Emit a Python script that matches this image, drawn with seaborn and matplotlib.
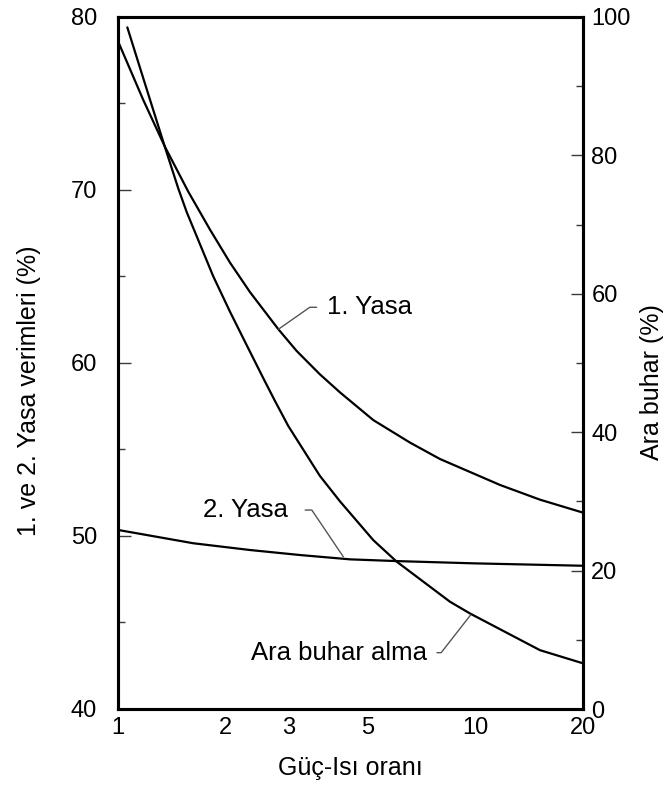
import matplotlib
matplotlib.use("Agg")
import matplotlib.pyplot as plt
import seaborn as sns
import pandas as pd

# Güç-Isı oranı ile 1. ve 2. yasa verimleri ve ara buhar alma oranı
guc_isi_1 = [1.0, 1.177, 1.353, 1.573, 1.81, 2.058, 2.34, 2.81, 3.16, 3.67,
             4.18, 5.18, 6.56, 7.96, 11.72, 15.16, 20.0]
verim_1_yasa = [78.6, 75.2, 72.5, 69.9, 67.7, 65.8, 64.1, 61.95, 60.7, 59.35,
                58.3, 56.7, 55.4, 54.45, 52.95, 52.1, 51.35]

guc_isi_2 = [1.0, 1.625, 2.34, 3.23, 4.46, 6.02, 9.87, 20.0]
verim_2_yasa = [50.35, 49.58, 49.19, 48.9, 48.65, 48.55, 48.42, 48.28]

guc_isi_ab = [1.062, 1.15, 1.223, 1.353, 1.475, 1.557, 1.848, 2.058, 2.29, 2.55, 2.75,
              2.995, 3.67, 4.18, 5.18, 6.02, 8.49, 9.66, 15.16, 20.0]
ara_buhar = [98.5, 92.8, 88.4, 81.2, 75.2, 71.8, 62.5, 57.4, 52.6, 47.8, 44.5,
             40.9, 33.7, 30.0, 24.4, 21.3, 15.5, 13.8, 8.5, 6.6]

x_ticks = [1, 2, 3, 5, 10, 20]
x_minor_ticks = [4, 6, 7, 8, 9]
left_ticks = [40, 50, 60, 70, 80]
left_minor = [45, 55, 65, 75]
right_ticks = [0, 20, 40, 60, 80, 100]
right_minor = [10, 30, 50, 70, 90]

sns.set_theme(style="white")
plt.rcParams["font.family"] = ["Liberation Sans", "DejaVu Sans"]
plt.rcParams["text.color"] = "black"
plt.rcParams["axes.labelcolor"] = "black"
plt.rcParams["xtick.color"] = "black"
plt.rcParams["ytick.color"] = "black"

df1 = pd.DataFrame({"x": guc_isi_1, "y": verim_1_yasa})
df2 = pd.DataFrame({"x": guc_isi_2, "y": verim_2_yasa})
dfab = pd.DataFrame({"x": guc_isi_ab, "y": ara_buhar})

fig = plt.figure(figsize=(6.69, 7.89), dpi=100)
ax = fig.add_axes([118 / 669, 80 / 789, 465 / 669, 692 / 789])
ax2 = ax.twinx()

line_kw = dict(color="black", linewidth=1.6, sort=False, estimator=None)
sns.lineplot(data=df1, x="x", y="y", ax=ax, **line_kw)
sns.lineplot(data=df2, x="x", y="y", ax=ax, **line_kw)
sns.lineplot(data=dfab, x="x", y="y", ax=ax2, **line_kw)

ax.set_xscale("log")
ax.set_xlim(1, 20)
ax.set_ylim(40, 80)
ax2.set_ylim(0, 100)

ax.set_xticks(x_ticks)
ax.set_xticklabels([str(t) for t in x_ticks])
ax.set_xticks(x_minor_ticks, minor=True)
ax.set_xticklabels([], minor=True)
ax.set_yticks(left_ticks)
ax.set_yticks(left_minor, minor=True)
ax2.set_yticks(right_ticks)
ax2.set_yticks(right_minor, minor=True)

tick_col = "#3a3a3a"
tick_fs = 17
ax.tick_params(axis="x", which="major", direction="in", length=9, width=1,
               color=tick_col, labelsize=tick_fs, pad=6, top=False)
ax.tick_params(axis="x", which="minor", direction="in", length=4.5, width=1,
               color=tick_col, top=False)
ax.tick_params(axis="y", which="major", direction="in", length=9, width=1,
               color=tick_col, labelsize=tick_fs, pad=15, right=False)
ax.tick_params(axis="y", which="minor", direction="in", length=5, width=1,
               color=tick_col, right=False)
ax2.tick_params(axis="y", which="major", direction="in", length=9, width=1,
                color=tick_col, labelsize=tick_fs, pad=6)
ax2.tick_params(axis="y", which="minor", direction="in", length=5, width=1,
                color=tick_col)

for a in (ax, ax2):
    for s in a.spines.values():
        s.set_visible(True)
        s.set_linewidth(2.2)
        s.set_color("black")

label_fs = 18
ax.set_xlabel("Güç-Isı oranı", fontsize=label_fs)
ax.xaxis.set_label_coords(0.5, -0.068)
ax.set_ylabel("1. ve 2. Yasa verimleri (%)", fontsize=label_fs)
ax.yaxis.set_label_coords(-0.166, 0.46)
ax2.set_ylabel("Ara buhar (%)", fontsize=label_fs, rotation=90)
ax2.yaxis.set_label_coords(1.122, 0.472)

note_fs = 18.5
lead = dict(arrowstyle="-", color="#555555", linewidth=1.0, shrinkB=0)
ax.annotate("1. Yasa", xy=(2.81, 61.95), xytext=(3.84, 63.22),
            ha="left", va="center", fontsize=note_fs,
            arrowprops=dict(connectionstyle="angle,angleA=0,angleB=35,rad=0",
                            relpos=(0, 0.5), shrinkA=5, **lead))
ax.annotate("2. Yasa", xy=(4.27, 48.8), xytext=(2.99, 51.5),
            ha="right", va="center", fontsize=note_fs,
            arrowprops=dict(connectionstyle="angle,angleA=0,angleB=124,rad=0",
                            relpos=(1, 0.5), shrinkA=10, **lead))
ax2.annotate("Ara buhar alma", xy=(9.70, 13.6), xytext=(7.31, 8.14),
             ha="right", va="center", fontsize=note_fs,
             arrowprops=dict(connectionstyle="angle,angleA=0,angleB=52,rad=0",
                             relpos=(1, 0.5), shrinkA=5, **lead))

fig.savefig("out.png", dpi=100, facecolor="white")
